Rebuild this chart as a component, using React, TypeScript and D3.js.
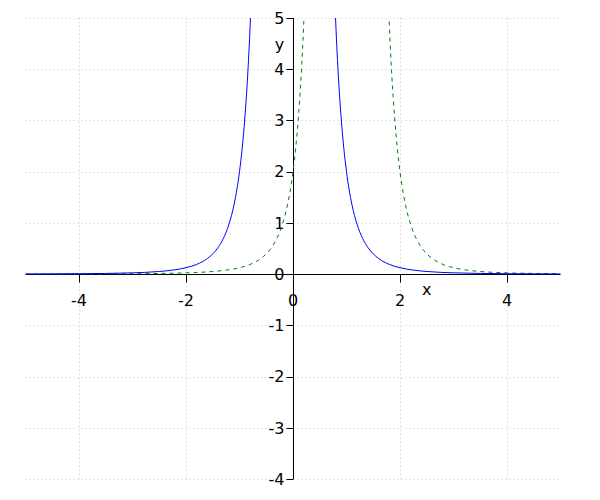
import React, { useEffect, useRef } from 'react';
import * as d3 from 'd3';

// blue solid curve, two branches
const blueLeftX = [-5, -4, -3.5, -3, -2.5, -2.25, -2, -1.8, -1.6, -1.5, -1.4, -1.3, -1.2, -1.1, -1.05, -1.0, -0.95, -0.9, -0.85, -0.8, -0.78];
const blueLeftY = [0.003, 0.008, 0.013, 0.025, 0.051, 0.078, 0.125, 0.19, 0.305, 0.395, 0.52, 0.7, 0.965, 1.366, 1.645, 2.0, 2.455, 3.05, 3.83, 4.88, 5.4];
const blueRightX = [0.78, 0.8, 0.85, 0.9, 0.95, 1.0, 1.05, 1.1, 1.2, 1.3, 1.4, 1.5, 1.6, 1.8, 2, 2.25, 2.5, 3, 3.5, 4, 5];
const blueRightY = [5.4, 4.88, 3.83, 3.05, 2.455, 2.0, 1.645, 1.366, 0.965, 0.7, 0.52, 0.395, 0.305, 0.19, 0.125, 0.078, 0.051, 0.025, 0.013, 0.008, 0.003];

// green dashed curve, two branches
const greenLeftX = [-5, -4, -3, -2.5, -2, -1.5, -1.25, -1, -0.8, -0.6, -0.5, -0.4, -0.3, -0.2, -0.1, -0.05, 0, 0.05, 0.1, 0.15, 0.2, 0.22];
const greenLeftY = [0.0015, 0.003, 0.008, 0.013, 0.025, 0.051, 0.078, 0.125, 0.19, 0.305, 0.395, 0.52, 0.7, 0.965, 1.366, 1.645, 2.0, 2.455, 3.05, 3.83, 4.88, 5.4];
const greenRightX = [1.78, 1.8, 1.85, 1.9, 1.95, 2.0, 2.05, 2.1, 2.2, 2.3, 2.4, 2.5, 2.6, 2.8, 3, 3.25, 3.5, 4, 4.5, 5];
const greenRightY = [5.4, 4.88, 3.83, 3.05, 2.455, 2.0, 1.645, 1.366, 0.965, 0.7, 0.52, 0.395, 0.305, 0.19, 0.125, 0.078, 0.051, 0.025, 0.013, 0.008];

const xTicks = [-4, -2, 0, 2, 4];
const yTicks = [-4, -3, -2, -1, 0, 1, 2, 3, 4, 5];
const xGrid = [-4, -2, 2, 4];

const App: React.FC = () => {
    const svgRef = useRef<SVGSVGElement>(null);

    useEffect(() => {
        const svg = d3.select(svgRef.current);
        svg.selectAll('*').remove();

        const width = 600;
        const height = 500;
        const font = 'DejaVu Sans, sans-serif';

        const x = d3.scaleLinear().domain([-5, 5]).range([25.5, 560.5]);
        const y = d3.scaleLinear().domain([-4, 5]).range([479, 18]);

        svg.attr('width', width).attr('height', height);

        svg.append('defs').append('clipPath').attr('id', 'plot')
            .append('rect')
            .attr('x', x(-5)).attr('y', y(5))
            .attr('width', x(5) - x(-5)).attr('height', y(-4) - y(5));

        // grid
        const grid = svg.append('g')
            .attr('stroke', '#c8c8c8')
            .attr('stroke-width', 1)
            .attr('stroke-dasharray', '1,3');
        grid.selectAll('line.h')
            .data(yTicks.filter(d => d !== 0))
            .enter().append('line')
            .attr('x1', x(-5)).attr('x2', x(5))
            .attr('y1', d => Math.round(y(d)) + 0.5)
            .attr('y2', d => Math.round(y(d)) + 0.5);
        grid.selectAll('line.v')
            .data(xGrid)
            .enter().append('line')
            .attr('y1', y(5)).attr('y2', y(-4))
            .attr('x1', d => Math.round(x(d)) + 0.5)
            .attr('x2', d => Math.round(x(d)) + 0.5);

        // axes
        const x0 = Math.round(x(0)) + 0.5;
        const y0 = Math.round(y(0)) + 0.5;
        const axes = svg.append('g').attr('stroke', '#000').attr('stroke-width', 1);
        axes.append('line').attr('x1', x(-5)).attr('x2', x(5)).attr('y1', y0).attr('y2', y0);
        axes.append('line').attr('x1', x0).attr('x2', x0).attr('y1', y(5)).attr('y2', y(-4));
        axes.selectAll('line.xt')
            .data(xTicks)
            .enter().append('line')
            .attr('x1', d => Math.round(x(d)) + 0.5)
            .attr('x2', d => Math.round(x(d)) + 0.5)
            .attr('y1', y0).attr('y2', y0 + 8);
        axes.selectAll('line.yt')
            .data(yTicks)
            .enter().append('line')
            .attr('y1', d => Math.round(y(d)) + 0.5)
            .attr('y2', d => Math.round(y(d)) + 0.5)
            .attr('x1', x0 - 7).attr('x2', x0);

        svg.selectAll('text.xl')
            .data(xTicks)
            .enter().append('text')
            .attr('x', d => x(d))
            .attr('y', y0 + 31)
            .attr('text-anchor', 'middle')
            .attr('font-family', font)
            .attr('font-size', 16)
            .text(d => d);
        svg.selectAll('text.yl')
            .data(yTicks)
            .enter().append('text')
            .attr('x', x0 - 9)
            .attr('y', d => y(d))
            .attr('dy', '0.36em')
            .attr('text-anchor', 'end')
            .attr('font-family', font)
            .attr('font-size', 16)
            .text(d => d);

        svg.append('text').attr('x', x(2.5)).attr('y', y0 + 20)
            .attr('text-anchor', 'middle').attr('font-family', font).attr('font-size', 16).text('x');
        svg.append('text').attr('x', x0 - 14).attr('y', y(4.37))
            .attr('text-anchor', 'middle').attr('font-family', font).attr('font-size', 16).text('y');

        // curves
        const line = d3.line<[number, number]>()
            .x(d => x(d[0]))
            .y(d => y(d[1]))
            .curve(d3.curveMonotoneX);
        const zip = (xs: number[], ys: number[]) => xs.map((v, i) => [v, ys[i]] as [number, number]);

        const curves = svg.append('g').attr('clip-path', 'url(#plot)').attr('fill', 'none');
        [zip(greenLeftX, greenLeftY), zip(greenRightX, greenRightY)].forEach(pts => {
            curves.append('path').attr('d', line(pts))
                .attr('stroke', '#0a7a0a').attr('stroke-width', 1)
                .attr('stroke-dasharray', '4,4');
        });
        [zip(blueLeftX, blueLeftY), zip(blueRightX, blueRightY)].forEach(pts => {
            curves.append('path').attr('d', line(pts))
                .attr('stroke', '#0000ff').attr('stroke-width', 1);
        });
    }, []);

    return <svg ref={svgRef} style={{ position: 'absolute', left: 0, top: 0 }}></svg>;
};

export default App;
